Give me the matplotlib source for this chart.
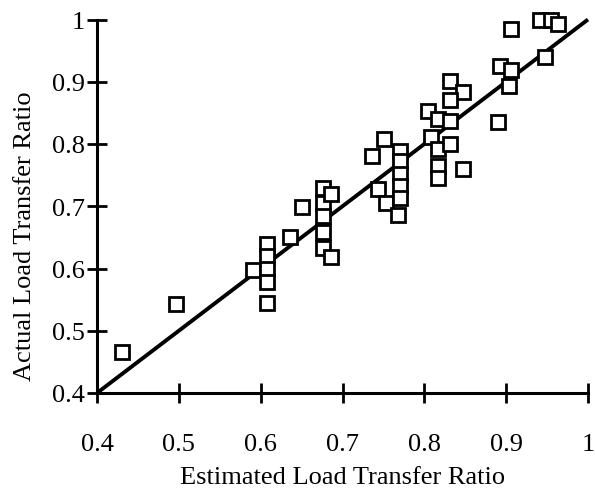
import matplotlib
matplotlib.use("Agg")
import matplotlib.pyplot as plt

est = [0.431, 0.496,
       0.591, 0.608, 0.608, 0.608, 0.608, 0.608,
       0.636, 0.651,
       0.676, 0.676, 0.676, 0.676, 0.676, 0.686, 0.686,
       0.736, 0.751, 0.743, 0.753, 0.770, 0.770, 0.770, 0.770, 0.770, 0.768,
       0.804, 0.817, 0.808, 0.817, 0.817, 0.817, 0.831, 0.847, 0.831, 0.831, 0.831, 0.847,
       0.890, 0.892, 0.906, 0.904, 0.906, 0.941, 0.955, 0.963, 0.947]
act = [0.466, 0.543,
       0.597, 0.640, 0.620, 0.599, 0.578, 0.544,
       0.650, 0.699,
       0.730, 0.705, 0.685, 0.658, 0.633, 0.719, 0.618,
       0.781, 0.808, 0.728, 0.706, 0.789, 0.772, 0.752, 0.733, 0.714, 0.686,
       0.853, 0.840, 0.811, 0.792, 0.765, 0.746, 0.902, 0.883, 0.870, 0.837, 0.800, 0.760,
       0.835, 0.926, 0.919, 0.893, 0.985, 1.000, 1.000, 0.993, 0.939]

line_x = [0.4, 1.0]
line_y = [0.4, 1.0]
ticks = [0.4, 0.5, 0.6, 0.7, 0.8, 0.9, 1.0]
tick_labels = ["0.4", "0.5", "0.6", "0.7", "0.8", "0.9", "1"]

plt.rcParams['font.family'] = ['Liberation Serif', 'DejaVu Serif']

fig = plt.figure(figsize=(5.95, 4.89), dpi=100)
ax = fig.add_axes([97/595, 1 - 394/489, 491/595, (394 - 20.5)/489])

ax.plot(line_x, line_y, color='black', lw=2.8, solid_capstyle='butt', clip_on=False, zorder=2)
ax.plot(est, act, linestyle='none', marker='s', markersize=10, markerfacecolor='white',
        markeredgecolor='black', markeredgewidth=2.0, clip_on=False, zorder=3)

ax.set_xlim(0.4, 1.0)
ax.set_ylim(0.4, 1.0)
ax.set_xticks(ticks)
ax.set_xticklabels(tick_labels)
ax.set_yticks(ticks)
ax.set_yticklabels(tick_labels)

for s in ['top', 'right']:
    ax.spines[s].set_visible(False)
for s in ['left', 'bottom']:
    ax.spines[s].set_linewidth(2.2)

ax.tick_params(axis='both', direction='inout', length=15, width=2.0, labelsize=19)
ax.tick_params(axis='x', pad=21)
ax.tick_params(axis='y', pad=1)

ax.set_xlabel("Estimated Load Transfer Ratio", fontsize=19, labelpad=8)
ax.set_ylabel("Actual Load Transfer Ratio", fontsize=19)
ax.yaxis.set_label_coords(-0.125, 0.423)

fig.savefig("out.png", dpi=100)
